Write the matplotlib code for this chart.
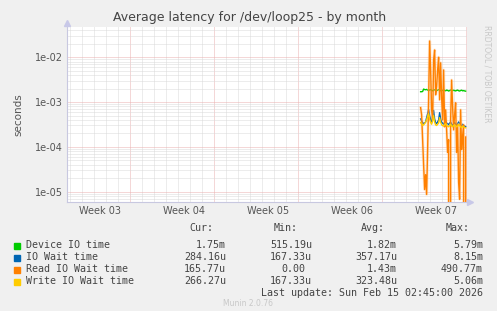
import numpy as np
import matplotlib
matplotlib.use('Agg')
import matplotlib.pyplot as plt

# Axis settings (days since Jan 1 2026; right edge = Feb 15 02:45)
x_end = 45.115
x_start = x_end - 400 / 12
week_labels = ['Week 03', 'Week 04', 'Week 05', 'Week 06', 'Week 07']
week_label_pos = [14.5, 21.5, 28.5, 35.5, 42.5]
week_starts = [17, 24, 31, 38, 45]

# Data: 2-hour samples starting Feb 11 06:00
t0 = 41.25
device_io = [1.70, 1.70, 1.72, 1.95, 1.90, 1.88, 1.92, 1.85, 1.80, 1.86, 1.90, 1.83, 1.78, 1.85, 1.88, 1.82,
             1.79, 1.84, 1.90, 1.86, 1.80, 1.77, 1.83, 1.87, 1.81, 1.78, 1.85, 1.82, 1.76, 1.80, 1.86, 1.83,
             1.79, 1.84, 1.80, 1.77, 1.82, 1.85, 1.79, 1.76, 1.81, 1.84, 1.78, 1.80, 1.77, 1.75]
io_wait = [4.2, 3.8, 3.5, 3.3, 3.4, 3.6, 4.5, 5.5, 6.8, 5.0, 4.0, 3.6, 4.8, 6.5, 4.2, 3.5,
           3.3, 3.6, 4.0, 5.8, 4.3, 3.5, 3.4, 3.2, 3.5, 3.8, 3.4, 3.3, 3.1, 3.4, 3.6, 3.2,
           3.0, 3.3, 3.5, 3.2, 3.1, 3.3, 3.6, 3.4, 3.0, 2.9, 3.2, 3.0, 2.9, 2.84]
read_wait = [7.5e-4, 5.2e-4, 1.45e-4, 4.0e-5, 1.12e-5, 2.4e-5, 8.7e-6, 8.7e-5, 1.12e-3, 2.3e-2, 5.2e-3,
             6.7e-4, 4.0e-4, 8.7e-3, 1.45e-2, 1.45e-3, 2.2e-3, 5.2e-3, 1.0e-2, 1.12e-3, 7.5e-3, 1.3e-3,
             4.0e-4, 5.2e-3, 2.8e-4, 6.7e-4, 2.4e-4, 7.5e-5, 1.45e-4, 0.0, 4.0e-4, 3.1e-3, 7.9e-4,
             2.4e-4, 5.2e-4, 9.6e-4, 7.5e-5, 3.1e-4, 1.6e-5, 6.8e-6, 6.7e-4, 8.7e-5, 1.7e-4, 3.1e-4,
             0.0, 1.66e-4]
write_wait = [3.5, 3.2, 3.0, 3.1, 3.3, 3.6, 4.0, 4.8, 5.5, 4.2, 3.5, 3.2, 3.8, 5.0, 3.6, 3.1,
              3.0, 3.2, 3.4, 4.5, 3.6, 3.1, 3.0, 2.9, 3.1, 3.3, 3.0, 2.9, 2.8, 3.0, 3.2, 2.9,
              2.8, 3.0, 3.1, 2.9, 2.8, 2.9, 3.2, 3.0, 2.8, 2.7, 2.9, 2.8, 2.7, 2.66]

legend_names = ['Device IO time', 'IO Wait time', 'Read IO Wait time', 'Write IO Wait time']
colors = ['#00CC00', '#0066B3', '#FF8000', '#FFCC00']
cur = ['1.75m', '284.16u', '165.77u', '266.27u']
mins = ['515.19u', '167.33u', '0.00', '167.33u']
avgs = ['1.82m', '357.17u', '1.43m', '323.48u']
maxs = ['5.79m', '8.15m', '490.77m', '5.06m']

t = t0 + np.arange(len(device_io)) / 12
device_io = np.array(device_io) * 1e-3
io_wait = np.array(io_wait) * 1e-4
read_wait = np.array(read_wait)
write_wait = np.array(write_wait) * 1e-4

W, H = 497, 311
fig = plt.figure(figsize=(W / 100, H / 100), dpi=100, facecolor='#F0F0F0')
ax = fig.add_axes([67 / W, 1 - 202.3 / H, 400 / W, (202.3 - 26.7) / H], facecolor='white')
ax.set_yscale('log', nonpositive='clip')
ax.set_xlim(x_start, x_end)
ax.set_ylim(5.8e-6, 4.8e-2)

# grid: 1px dots
for d in range(12, 46):
    major = d in week_starts
    ax.axvline(d, color='#ebb0b0' if major else '#dadada', lw=0.72, ls=(0, (1, 1)), zorder=0)
for e in range(-6, -1):
    for m in range(1, 10):
        ax.axhline(m * 10.0 ** e, color='#ebb0b0' if m == 1 else '#dadada', lw=0.72,
                   ls=(0, (1, 1)), zorder=0)

ax.plot(t, device_io, color=colors[0], lw=1)
ax.plot(t, io_wait, color=colors[1], lw=1)
ax.plot(t, read_wait, color='#FFC080', lw=2.2, alpha=0.35)
ax.plot(t, read_wait, color=colors[2], lw=1)
ax.plot(t, write_wait, color=colors[3], lw=1)

for s in ['top', 'right']:
    ax.spines[s].set_visible(False)
for s in ['left', 'bottom']:
    ax.spines[s].set_color('#c8c8e0')
    ax.spines[s].set_linewidth(0.8)
ax.plot([0], [1.02], marker='^', ms=4, color='#c8c8e8', transform=ax.transAxes, clip_on=False)
ax.plot([1.008], [0], marker='>', ms=4, color='#c8c8e8', transform=ax.transAxes, clip_on=False)

ax.set_yticks([1e-5, 1e-4, 1e-3, 1e-2])
ax.set_yticklabels(['1e-05', '1e-04', '1e-03', '1e-02'])
ax.yaxis.set_minor_locator(matplotlib.ticker.NullLocator())
ax.set_xticks(week_label_pos)
ax.set_xticklabels(week_labels)
ax.tick_params(axis='both', length=0, labelsize=7, colors='#555555', pad=3)
ax.set_ylabel('seconds', fontsize=7.5, color='#555555', labelpad=8)

fig.text(250 / W, 1 - 18 / H, 'Average latency for /dev/loop25 - by month',
         ha='center', va='center', fontsize=9, color='#444444')
fig.text(487 / W, 1 - 25 / H, 'RRDTOOL / TOBI OETIKER', rotation=270, ha='center', va='top',
         fontsize=5.5, color='#c8c8c8')

mono = 'DejaVu Sans Mono'
fs = 7.2
fy = lambda y: 1 - y / H
for txt, xr in zip(['Cur:', 'Min:', 'Avg:', 'Max:'], [213, 298, 385, 470]):
    fig.text(xr / W, fy(228), txt, ha='right', va='center', family=mono, fontsize=fs, color='#444444')
for i, name in enumerate(legend_names):
    y = 245 + 12 * i
    fig.patches.append(plt.Rectangle((14 / W, fy(y + 3.5)), 6 / W, 6 / H, transform=fig.transFigure,
                                     color=colors[i], figure=fig))
    fig.text(26 / W, fy(y), name, ha='left', va='center', family=mono, fontsize=fs, color='#444444')
    fig.text(226 / W, fy(y), cur[i], ha='right', va='center', family=mono, fontsize=fs, color='#444444')
    xr = 305 if mins[i] == '0.00' else 312
    fig.text(xr / W, fy(y), mins[i], ha='right', va='center', family=mono, fontsize=fs, color='#444444')
    fig.text(397 / W, fy(y), avgs[i], ha='right', va='center', family=mono, fontsize=fs, color='#444444')
    fig.text(483 / W, fy(y), maxs[i], ha='right', va='center', family=mono, fontsize=fs, color='#444444')
fig.text(483 / W, fy(293), 'Last update: Sun Feb 15 02:45:00 2026', ha='right', va='center',
         family=mono, fontsize=fs, color='#444444')
fig.text(248 / W, fy(304), 'Munin 2.0.76', ha='center', va='center', fontsize=5.5, color='#c8c8c8')

fig.savefig('out.png', dpi=100, facecolor=fig.get_facecolor())
